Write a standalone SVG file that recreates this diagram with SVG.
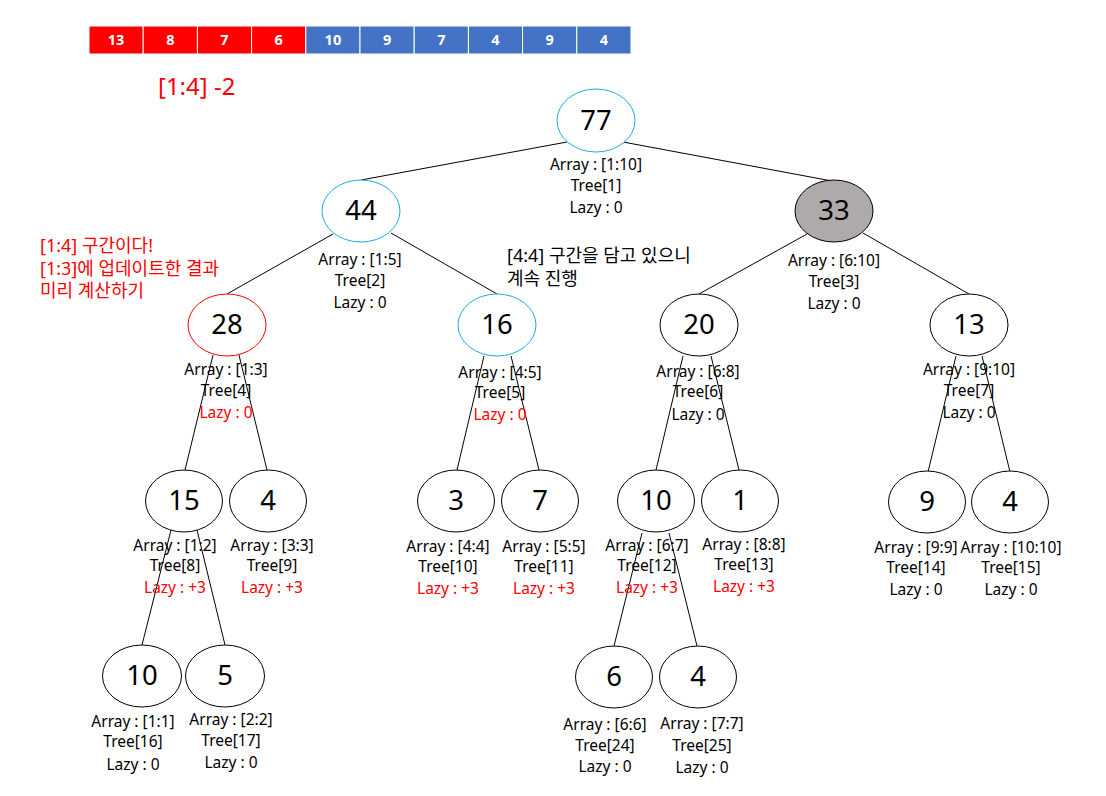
<svg xmlns="http://www.w3.org/2000/svg" width="1106" height="796" viewBox="0 0 1106 796">
<style>
text{font-family:"Noto Sans","Noto Sans CJK KR",sans-serif;}
.cell{stroke:#fff;stroke-width:1;}
.ct{fill:#fff;font-weight:bold;font-size:14.5px;text-anchor:middle;}
.n{fill:#fff;stroke:#000;stroke-width:1;}
.nb{fill:#fff;stroke:#1AACE6;stroke-width:1;}
.nr{fill:#fff;stroke:#FF0000;stroke-width:1;}
.ng{fill:#AEAAAA;stroke:#000;stroke-width:1;}
.v{font-size:27.5px;text-anchor:middle;fill:#000;}
.l{font-size:15.5px;text-anchor:middle;fill:#000;}
.r{fill:#FF0000;}
.e{stroke:#000;stroke-width:1;fill:none;}
.note{font-size:18px;}
</style>
<g id="array">
<rect class="cell" x="89" y="26" width="54.2" height="28" fill="#FF0000"/>
<rect class="cell" x="143.2" y="26" width="54.2" height="28" fill="#FF0000"/>
<rect class="cell" x="197.4" y="26" width="54.2" height="28" fill="#FF0000"/>
<rect class="cell" x="251.6" y="26" width="54.2" height="28" fill="#FF0000"/>
<rect class="cell" x="305.8" y="26" width="54.2" height="28" fill="#4472C4"/>
<rect class="cell" x="360" y="26" width="54.2" height="28" fill="#4472C4"/>
<rect class="cell" x="414.2" y="26" width="54.2" height="28" fill="#4472C4"/>
<rect class="cell" x="468.4" y="26" width="54.2" height="28" fill="#4472C4"/>
<rect class="cell" x="522.6" y="26" width="54.2" height="28" fill="#4472C4"/>
<rect class="cell" x="576.8" y="26" width="54.2" height="28" fill="#4472C4"/>
<text class="ct" x="116.1" y="45">13</text>
<text class="ct" x="170.3" y="45">8</text>
<text class="ct" x="224.5" y="45">7</text>
<text class="ct" x="278.7" y="45">6</text>
<text class="ct" x="332.9" y="45">10</text>
<text class="ct" x="387.1" y="45">9</text>
<text class="ct" x="441.3" y="45">7</text>
<text class="ct" x="495.5" y="45">4</text>
<text class="ct" x="549.7" y="45">9</text>
<text class="ct" x="603.9" y="45">4</text>
</g>
<text x="158" y="95" font-size="24" fill="#FF0000">[1:4] -2</text>
<g id="notes">
<text class="note r" x="40" y="252">[1:4] 구간이다!</text>
<text class="note r" x="40" y="275">[1:3]에 업데이트한 결과</text>
<text class="note r" x="40" y="297">미리 계산하기</text>
<text class="note" x="507" y="262" fill="#000">[4:4] 구간을 담고 있으니</text>
<text class="note" x="507" y="285" fill="#000">계속 진행</text>
</g>
<g id="connectors">
<line class="e" x1="567" y1="142" x2="361" y2="180"/>
<line class="e" x1="623" y1="142" x2="832" y2="181"/>
<line class="e" x1="333" y1="234" x2="227" y2="294"/>
<line class="e" x1="391" y1="233" x2="497" y2="294"/>
<line class="e" x1="807" y1="234" x2="699" y2="294"/>
<line class="e" x1="863" y1="233" x2="969" y2="294"/>
<line class="e" x1="213" y1="355" x2="185" y2="470"/>
<line class="e" x1="239" y1="355" x2="267" y2="470"/>
<line class="e" x1="484" y1="356" x2="457" y2="470"/>
<line class="e" x1="511" y1="356" x2="539" y2="470"/>
<line class="e" x1="683" y1="356" x2="656" y2="470"/>
<line class="e" x1="711" y1="356" x2="739" y2="470"/>
<line class="e" x1="956" y1="356" x2="928" y2="472"/>
<line class="e" x1="982" y1="356" x2="1010" y2="472"/>
<line class="e" x1="171" y1="530" x2="142" y2="645"/>
<line class="e" x1="197" y1="530" x2="225" y2="645"/>
<line class="e" x1="642" y1="533" x2="614" y2="646"/>
<line class="e" x1="669" y1="533" x2="697" y2="646"/>
</g>
<g id="node1">
<ellipse class="nb" cx="596" cy="120.5" rx="39" ry="31.5"/>
<text class="v" x="596" y="130">77</text>
<text class="l" x="596" y="170">Array : [1:10]</text>
<text class="l" x="596" y="191">Tree[1]</text>
<text class="l" x="596" y="213">Lazy : 0</text>
</g>
<g id="node2">
<ellipse class="nb" cx="361" cy="211" rx="39" ry="31"/>
<text class="v" x="361" y="220">44</text>
<text class="l" x="360" y="265">Array : [1:5]</text>
<text class="l" x="360" y="286">Tree[2]</text>
<text class="l" x="360" y="308">Lazy : 0</text>
</g>
<g id="node3">
<ellipse class="ng" cx="834" cy="211" rx="39" ry="31"/>
<text class="v" x="834" y="220">33</text>
<text class="l" x="834" y="266">Array : [6:10]</text>
<text class="l" x="834" y="287">Tree[3]</text>
<text class="l" x="834" y="309">Lazy : 0</text>
</g>
<g id="node4">
<ellipse class="nr" cx="227" cy="325" rx="39" ry="31"/>
<text class="v" x="227" y="334">28</text>
<text class="l" x="226" y="375">Array : [1:3]</text>
<text class="l" x="226" y="396">Tree[4]</text>
<text class="l r" x="226" y="418">Lazy : 0</text>
</g>
<g id="node5">
<ellipse class="nb" cx="497" cy="325" rx="39" ry="31"/>
<text class="v" x="497" y="334">16</text>
<text class="l" x="500" y="378">Array : [4:5]</text>
<text class="l" x="500" y="398">Tree[5]</text>
<text class="l r" x="500" y="420">Lazy : 0</text>
</g>
<g id="node6">
<ellipse class="n" cx="699" cy="325" rx="39" ry="31"/>
<text class="v" x="699" y="334">20</text>
<text class="l" x="698" y="377">Array : [6:8]</text>
<text class="l" x="698" y="397">Tree[6]</text>
<text class="l" x="698" y="420">Lazy : 0</text>
</g>
<g id="node7">
<ellipse class="n" cx="969" cy="325" rx="39" ry="31"/>
<text class="v" x="969" y="334">13</text>
<text class="l" x="969" y="375">Array : [9:10]</text>
<text class="l" x="969" y="396">Tree[7]</text>
<text class="l" x="969" y="418">Lazy : 0</text>
</g>
<g id="node8">
<ellipse class="n" cx="184" cy="501" rx="38.5" ry="31"/>
<text class="v" x="184" y="510">15</text>
<text class="l" x="175" y="551">Array : [1:2]</text>
<text class="l" x="175" y="571">Tree[8]</text>
<text class="l r" x="175" y="593">Lazy : +3</text>
</g>
<g id="node9">
<ellipse class="n" cx="268" cy="501" rx="38.5" ry="31"/>
<text class="v" x="268" y="510">4</text>
<text class="l" x="272" y="551">Array : [3:3]</text>
<text class="l" x="272" y="571">Tree[9]</text>
<text class="l r" x="272" y="593">Lazy : +3</text>
</g>
<g id="node10">
<ellipse class="n" cx="456" cy="501" rx="38.5" ry="31"/>
<text class="v" x="456" y="510">3</text>
<text class="l" x="448" y="552">Array : [4:4]</text>
<text class="l" x="448" y="572">Tree[10]</text>
<text class="l r" x="448" y="594">Lazy : +3</text>
</g>
<g id="node11">
<ellipse class="n" cx="540" cy="501" rx="38.5" ry="31"/>
<text class="v" x="540" y="510">7</text>
<text class="l" x="544" y="552">Array : [5:5]</text>
<text class="l" x="544" y="572">Tree[11]</text>
<text class="l r" x="544" y="594">Lazy : +3</text>
</g>
<g id="node12">
<ellipse class="n" cx="656" cy="501" rx="38.5" ry="31"/>
<text class="v" x="656" y="510">10</text>
<text class="l" x="647" y="551">Array : [6:7]</text>
<text class="l" x="647" y="571">Tree[12]</text>
<text class="l r" x="647" y="593">Lazy : +3</text>
</g>
<g id="node13">
<ellipse class="n" cx="740" cy="501" rx="38.5" ry="31"/>
<text class="v" x="740" y="510">1</text>
<text class="l" x="744" y="550">Array : [8:8]</text>
<text class="l" x="744" y="570">Tree[13]</text>
<text class="l r" x="744" y="592">Lazy : +3</text>
</g>
<g id="node14">
<ellipse class="n" cx="927" cy="502" rx="38.5" ry="31"/>
<text class="v" x="927" y="511">9</text>
<text class="l" x="916" y="553">Array : [9:9]</text>
<text class="l" x="916" y="573">Tree[14]</text>
<text class="l" x="916" y="595">Lazy : 0</text>
</g>
<g id="node15">
<ellipse class="n" cx="1010" cy="502" rx="38.5" ry="31"/>
<text class="v" x="1010" y="511">4</text>
<text class="l" x="1011" y="553">Array : [10:10]</text>
<text class="l" x="1011" y="573">Tree[15]</text>
<text class="l" x="1011" y="595">Lazy : 0</text>
</g>
<g id="node16">
<ellipse class="n" cx="142" cy="676" rx="39.5" ry="31"/>
<text class="v" x="142" y="685">10</text>
<text class="l" x="133" y="727">Array : [1:1]</text>
<text class="l" x="133" y="747">Tree[16]</text>
<text class="l" x="133" y="770">Lazy : 0</text>
</g>
<g id="node17">
<ellipse class="n" cx="225" cy="676" rx="39.5" ry="31"/>
<text class="v" x="225" y="685">5</text>
<text class="l" x="231" y="725">Array : [2:2]</text>
<text class="l" x="231" y="746">Tree[17]</text>
<text class="l" x="231" y="768">Lazy : 0</text>
</g>
<g id="node24">
<ellipse class="n" cx="614" cy="677" rx="38.5" ry="31"/>
<text class="v" x="614" y="686">6</text>
<text class="l" x="605" y="730">Array : [6:6]</text>
<text class="l" x="605" y="751">Tree[24]</text>
<text class="l" x="605" y="772">Lazy : 0</text>
</g>
<g id="node25">
<ellipse class="n" cx="698" cy="677" rx="38.5" ry="31"/>
<text class="v" x="698" y="686">4</text>
<text class="l" x="702" y="729">Array : [7:7]</text>
<text class="l" x="702" y="751">Tree[25]</text>
<text class="l" x="702" y="773">Lazy : 0</text>
</g>
</svg>
